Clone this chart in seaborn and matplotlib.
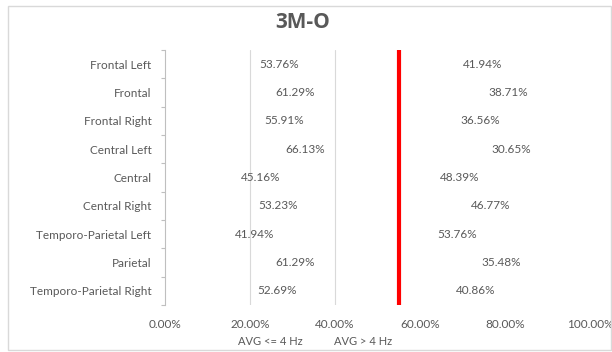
import matplotlib
matplotlib.use("Agg")
import matplotlib.pyplot as plt
from matplotlib.patches import Rectangle
import numpy as np
import pandas as pd
import seaborn as sns

regions = ["Frontal Left", "Frontal", "Frontal Right", "Central Left", "Central",
           "Central Right", "Temporo-Parietal Left", "Parietal", "Temporo-Parietal Right"]
avg_low = [53.76, 61.29, 55.91, 66.13, 45.16, 53.23, 41.94, 61.29, 52.69]
avg_high = [41.94, 38.71, 36.56, 30.65, 48.39, 46.77, 53.76, 35.48, 40.86]
series_names = ["AVG <= 4 Hz", "AVG > 4 Hz"]
threshold = 55.0
x_ticks = [0, 20, 40, 60, 80, 100]

sns.set_theme(style="white")
plt.rcParams["font.family"] = ["Lato", "DejaVu Sans"]
grey = "#595959"

df = pd.DataFrame({"region": regions, "low": avg_low, "high": avg_high})

fig = plt.figure(figsize=(6.12, 3.52), dpi=100)
ax = fig.add_axes([0.27, 0.134, 0.694, 0.724])
ax.set_axisbelow(True)
ax.xaxis.grid(True, color="#d9d9d9", lw=0.8)

# first series: no fill, only labels show
sns.barplot(data=df, x="low", y="region", orient="h", width=1.0, errorbar=None,
            color="white", ax=ax, label=series_names[0])
for p in ax.containers[0]:
    p.set_facecolor("none")
    p.set_edgecolor("none")

# second series: white fill stacked on the first
pos = np.arange(len(regions))
ax.barh(pos, df["high"], left=df["low"], height=1.0, color="white",
        edgecolor="none", label=series_names[1])

for c in ax.containers:
    ax.bar_label(c, labels=[f"{v:.2f}%" for v in c.datavalues], label_type="center",
                 fontsize=8.5, color=grey)

ax.axvline(threshold, color="#ff0000", lw=3, zorder=3)

ax.set_xlim(0, 100)
ax.set_ylim(len(regions) - 0.5, -0.5)
ax.set_xticks(x_ticks)
ax.set_xticklabels([f"{t:.2f}%" for t in x_ticks])
ax.set_yticks(pos, minor=False)
ax.set_yticks(np.arange(-0.5, len(regions)), minor=True)
ax.set_xlabel("")
ax.set_ylabel("")
# only the gridlines left of the threshold show through
for t, gl in zip(x_ticks, ax.xaxis.get_gridlines()):
    gl.set_visible(0 < t < threshold)
ax.tick_params(axis="x", length=0, labelsize=8.5, labelcolor=grey, pad=10)
ax.tick_params(axis="y", which="major", length=0, labelsize=8.5, labelcolor=grey, pad=10)
ax.tick_params(axis="y", which="minor", left=True, length=3, color="#bfbfbf", width=0.8)
for s in ["top", "right", "bottom"]:
    ax.spines[s].set_visible(False)
ax.spines["left"].set_color("#bfbfbf")
ax.spines["left"].set_linewidth(0.8)

ax.legend(loc="center", bbox_to_anchor=(0.5, 0.03), bbox_transform=fig.transFigure,
          ncol=2, frameon=False, fontsize=8, handlelength=0.8, columnspacing=1.2,
          labelcolor=grey)

fig.text(0.495, 0.937, "3M-O", ha="center", va="center", fontsize=15,
         fontweight="bold", color=grey, family=["Open Sans", "DejaVu Sans"])
fig.patches.append(Rectangle((0.013, 0.005), 0.985, 0.978, transform=fig.transFigure,
                             fill=False, edgecolor="#d9d9d9", lw=1))

fig.savefig("out.png", dpi=100)
